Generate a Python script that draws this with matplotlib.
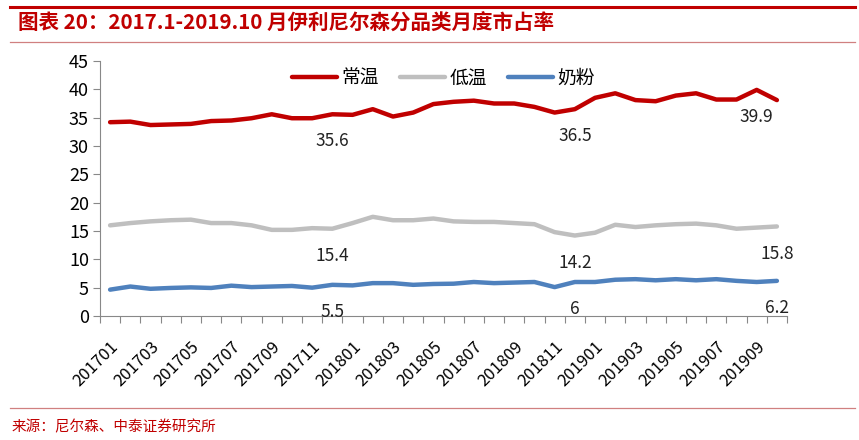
import matplotlib.pyplot as plt
from matplotlib.lines import Line2D

plt.rcParams["font.family"] = ["Noto Sans CJK SC", "DejaVu Sans"]

months = [f"{y}{m:02d}" for y in (2017, 2018, 2019) for m in range(1, 13)][:34]

ambient = [34.2, 34.3, 33.7, 33.8, 33.9, 34.4, 34.5, 34.9, 35.6, 34.9, 34.9, 35.6,
           35.5, 36.5, 35.2, 35.9, 37.4, 37.8, 38.0, 37.5, 37.5, 36.9, 35.9, 36.5,
           38.5, 39.3, 38.1, 37.9, 38.9, 39.3, 38.2, 38.2, 39.9, 38.1]
chilled = [16.0, 16.4, 16.7, 16.9, 17.0, 16.4, 16.4, 16.0, 15.2, 15.2, 15.5, 15.4,
           16.4, 17.5, 16.9, 16.9, 17.2, 16.7, 16.6, 16.6, 16.4, 16.2, 14.8, 14.2,
           14.7, 16.1, 15.7, 16.0, 16.2, 16.3, 16.0, 15.4, 15.6, 15.8]
powder = [4.65, 5.2, 4.8, 4.95, 5.05, 4.95, 5.35, 5.1, 5.2, 5.3, 5.0, 5.5,
          5.4, 5.8, 5.8, 5.5, 5.65, 5.7, 6.0, 5.8, 5.9, 6.0, 5.1, 6.0,
          6.0, 6.4, 6.5, 6.3, 6.5, 6.3, 6.5, 6.2, 6.0, 6.2]

series_names = ["常温", "低温", "奶粉"]
colors = ["#c00000", "#bfbfbf", "#4f81bd"]
# which points carry a value label
label_idx = [[11, 23, 32], [11, 23, 33], [11, 23, 33]]

fig = plt.figure(figsize=(8.59, 4.4), dpi=100)
ax = fig.add_axes([100 / 859, 1 - 316 / 440, 687 / 859, 255 / 440])

x = list(range(len(months)))
for vals, name, c, idxs in zip([ambient, chilled, powder], series_names, colors, label_idx):
    ax.plot(x, vals, color=c, lw=3.2, label=name, solid_capstyle="round")
    for i in idxs:
        ax.annotate(f"{vals[i]:g}", xy=(i, vals[i]), xytext=(0, -19.5),
                    textcoords="offset points", ha="center", va="center",
                    fontsize=12.5, color="#222222")

ax.set_ylim(0, 45)
ax.set_yticks(range(0, 46, 5))
ax.set_xlim(-0.5, len(months) - 0.5)
ax.set_xticks([i - 0.5 for i in range(len(months) + 1)])
ax.set_xticklabels([])
ax.set_xticks(x[::2], minor=True)
ax.set_xticklabels(months[::2], minor=True, rotation=45, ha="right",
                   rotation_mode="anchor", fontsize=12)
ax.tick_params(axis="x", which="minor", length=0, pad=16)
ax.tick_params(axis="x", which="major", length=5, color="#888888", direction="out")
ax.tick_params(axis="y", length=5, color="#888888", labelsize=13, pad=3)
for s in ("top", "right"):
    ax.spines[s].set_visible(False)
for s in ("left", "bottom"):
    ax.spines[s].set_color("#888888")

ax.legend(loc="upper center", bbox_to_anchor=(0.5, 1.04), ncol=3, frameon=False,
          fontsize=13.5, handlelength=2.4, columnspacing=1.1, handletextpad=0.25)

# title band
title_red = "#c00000"
fig.add_artist(Line2D([0.012, 0.995], [1 - 7 / 440] * 2, color=title_red, lw=2.2))
fig.add_artist(Line2D([0.012, 0.995], [1 - 42 / 440] * 2, color="#d08080", lw=0.9))
fig.text(18 / 859, 1 - 23 / 440, "图表 20：2017.1-2019.10 月伊利尼尔森分品类月度市占率",
         color=title_red, fontsize=14.8, fontweight="bold", va="center", style="italic")

# source band
fig.add_artist(Line2D([0.012, 0.995], [1 - 408 / 440] * 2, color="#d08080", lw=0.9))
fig.text(12 / 859, 1 - 427 / 440, "来源：尼尔森、中泰证券研究所", color=title_red,
         fontsize=10.5, va="center")

fig.savefig("out.png", dpi=100)
